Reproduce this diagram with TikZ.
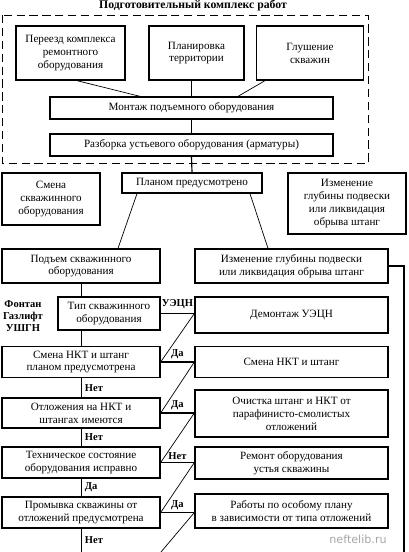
\documentclass[tikz,border=0pt]{standalone}
\usepackage{fontspec}
\setmainfont{Liberation Serif}
\newfontfamily\wmfont{DejaVu Sans}
\usetikzlibrary{calc}

\begin{document}
\begin{tikzpicture}[x=0.03cm, y=-0.03cm,
  font=\fontsize{9.5}{11}\selectfont,
  block/.style 2 args={draw, line width=1.1pt, minimum width=#1*0.03cm,
                       minimum height=#2*0.03cm, inner sep=1pt, align=center},
  link/.style={line width=0.6pt},
  branch/.style={line width=1.3pt},
  answer/.style={font=\fontsize{9}{10}\selectfont\bfseries, inner sep=1pt}]
  \useasboundingbox (0,0) rectangle (408,552);
  % Preparatory stage
  \node[font=\fontsize{10}{11}\selectfont\bfseries] (title) at (193,6) {Подготовительный комплекс работ};
  \draw[line width=0.8pt, dash pattern=on 7pt off 4pt] (2,15) rectangle (368,163);
  \node[block={109}{54}] (move) at (70.5,53) {Переезд комплекса\\ ремонтного\\ оборудования};
  \node[block={95}{54}] (plan) at (196.5,53) {Планировка\\ территории};
  \node[block={107}{54}] (kill) at (310,53) {Глушение\\ скважин};
  \node[block={283}{22}] (mount) at (191.5,108) {Монтаж подъемного оборудования};
  \node[block={283}{22}] (strip) at (191.5,145) {Разборка устьевого оборудования (арматуры)};
  \draw[link] ($(move.south)+(6.5,0)$) -- ($(mount.north)+(-51.5,0)$);
  \draw[link, line width=1pt] (mount.north |- plan.south) -- (mount.north);
  \draw[link] ($(kill.south)+(-45,0)$) -- ($(mount.north)+(46.5,0)$);
  \draw[link, line width=1pt] (mount.south) -- (strip.north);
  % Planned works
  \node[block={98}{52}] (swap) at (51,199) {Смена\\ скважинного\\ оборудования};
  \node[block={140}{20}] (planned) at (192,183) {Планом предусмотрено};
  \node[block={118}{61}] (depthA) at (347,203.5) {Изменение\\ глубины подвески\\ или ликвидация\\ обрыва штанг};
  \draw[link, line width=1pt] (strip.south) -- (planned.north);
  \node[block={158}{34}] (lift) at (81,266) {Подъем скважинного\\ оборудования};
  \node[block={193}{34}] (depthB) at (291.5,266) {Изменение глубины подвески\\ или ликвидация обрыва штанг};
  \draw[link] ($(planned.south)+(-55,0)$) -- ($(lift.north)+(37,0)$);
  \draw[link] ($(planned.south)+(58,0)$) -- ($(depthB.north)+(-23.5,0)$);
  \coordinate (rbot) at (404,552);
  \draw[link, line width=0.9pt] (depthB.east) -| (rbot);
  % Decision column
  \node[font=\fontsize{9}{10.5}\selectfont\bfseries, align=center] (kinds) at (23,316) {Фонтан\\ Газлифт\\ УШГН};
  \node[block={102}{33}] (type) at (109,313.5) {Тип скважинного\\ оборудования};
  \node[block={158}{31}] (tubes) at (81,362) {Смена НКТ и штанг\\ планом предусмотрена};
  \node[block={158}{30}] (depos) at (81,413) {Отложения на НКТ и\\ штангах имеются};
  \node[block={158}{31}] (state) at (81,462.5) {Техническое состояние\\ оборудования исправно};
  \node[block={158}{31}] (flush) at (81,512.5) {Промывка скважины от\\ отложений предусмотрена};
  % Actions column
  \node[block={193}{36}] (esp) at (291.5,315) {Демонтаж УЭЦН};
  \node[block={193}{31}] (tubesR) at (291.5,362) {Смена НКТ и штанг};
  \node[block={193}{47}] (clean) at (291.5,413.5) {Очистка штанг и НКТ от\\ парафинисто-смолистых\\ отложений};
  \node[block={193}{32}] (repair) at (291.5,463) {Ремонт оборудования\\ устья скважины};
  \node[block={193}{34}] (special) at (291.5,511) {Работы по особому плану\\ в зависимости от типа отложений};
  % Vertical flow
  \draw[link] (lift.south) -- (lift.south |- type.north);
  \draw[link] (lift.south |- type.south) -- (tubes.north) node[answer, pos=0.5, right=2pt] {};
  \draw[link] (tubes.south) -- (depos.north) node[answer, midway, right=2pt] {Нет};
  \draw[link] (depos.south) -- (state.north) node[answer, midway, right=2pt] {Нет};
  \draw[link] (state.south) -- (flush.north) node[answer, midway, right=2pt] {Да};
  \coordinate (lbot) at (81,552);
  \draw[link] (flush.south) -- (lbot) node[answer, pos=0.5, right=2pt] {Нет};
  % Branches to the right
  \draw[branch] (type.east) -- (type.east -| esp.west) node[answer, midway, above=2pt] {УЭЦН};
  \draw[branch] (tubes.east) -- (tubes.east -| tubesR.west) node[answer, midway, above=1pt] {Да};
  \draw[branch] (depos.east) -- (depos.east -| clean.west) node[answer, midway, above=1pt] {Да};
  \draw[branch] (state.east) -- (state.east -| repair.west) node[answer, midway, above=1pt] {Нет};
  \draw[branch] (flush.east) -- (flush.east -| special.west) node[answer, midway, above=1pt] {Да};
  % Back links
  \coordinate (dbot) at (161,552);
  \draw[link] (type.east -| esp.west) -- (tubes.east);
  \draw[link] (tubes.east -| tubesR.west) -- (depos.east);
  \draw[link] (depos.east -| clean.west) -- (state.east);
  \draw[link] (state.east -| repair.west) -- (flush.east);
  \draw[link] (flush.east -| special.west) -- (dbot);
  \node[font=\wmfont\fontsize{9.5}{10}\selectfont, text=gray!70] (mark) at (358,539) {neftelib.ru};
\end{tikzpicture}
\end{document}
